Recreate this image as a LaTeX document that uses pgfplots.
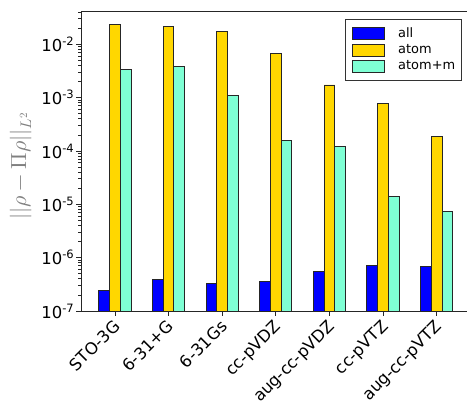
\documentclass[border=0pt]{standalone}
\usepackage{pgfplots}
\pgfplotsset{compat=1.18}
\usepackage{fontspec}
\usepackage{unicode-math}
\setmainfont{DejaVu Sans}
\setmathfont{Latin Modern Math}
\definecolor{cAll}{RGB}{0,0,255}
\definecolor{cAtom}{RGB}{255,215,0}
\definecolor{cAtomM}{RGB}{127,255,212}
\begin{document}
\begin{tikzpicture}
\pgfplotsset{myleg/.style={legend image code/.code={\draw[##1,draw=black!85,line width=0.9bp] (0bp,-6bp) rectangle (32bp,6bp);}}}
\begin{axis}[
  scale only axis,
  width=389bp, height=300bp,
  at={(0,0)}, anchor=south west,
  ymode=log, log origin=infty,
  ymin=1e-7, ymax=0.0422,
  xmin=-0.634, xmax=6.623,
  axis y line*=left, axis x line*=box,
  axis line style={line width=1bp, black!85},
  xtick pos=left, ytick pos=left,
  tick align=outside,
  major tick length=4.5bp, minor tick length=2.5bp,
  every tick/.style={black!85, line width=0.9bp},
  xtick={0,1,2,3,4,5,6},
  xticklabels={STO-3G,6-31+G,6-31Gs,cc-pVDZ,aug-cc-pVDZ,cc-pVTZ,aug-cc-pVTZ},
  xticklabel style={xshift=-2.5bp, yshift=-2bp, rotate=45, anchor=north east, font=\fontsize{16.5}{19}\selectfont, inner sep=1bp},
  ytick={1e-7,1e-6,1e-5,1e-4,1e-3,1e-2},
  yticklabels={10\textsuperscript{-7},10\textsuperscript{-6},10\textsuperscript{-5},10\textsuperscript{-4},10\textsuperscript{-3},10\textsuperscript{-2}},
  minor ytick={2e-7,3e-7,4e-7,5e-7,6e-7,7e-7,8e-7,9e-7,
    2e-6,3e-6,4e-6,5e-6,6e-6,7e-6,8e-6,9e-6,
    2e-5,3e-5,4e-5,5e-5,6e-5,7e-5,8e-5,9e-5,
    2e-4,3e-4,4e-4,5e-4,6e-4,7e-4,8e-4,9e-4,
    2e-3,3e-3,4e-3,5e-3,6e-3,7e-3,8e-3,9e-3,
    2e-2,3e-2,4e-2},
  yticklabel style={font=\fontsize{16.5}{19}\selectfont, inner sep=2bp},
  ybar, bar width=0.2,
  legend style={at={(0.980,0.973)}, anchor=north east, draw=black!80, line width=1bp,
    font=\fontsize{13}{15}\selectfont, inner xsep=6.5bp, inner ysep=7.5bp,
    nodes={inner sep=0bp, text height=9.5bp, text depth=2.5bp}, row sep=3.5bp,
    /tikz/every odd column/.style={column sep=13bp}},
  legend cell align=left,
]
\addplot[fill=cAll, draw=black!85, line width=0.9bp, bar shift=-0.2, myleg] coordinates {
  (0,2.4e-7) (1,3.9e-7) (2,3.35e-7) (3,3.6e-7) (4,5.5e-7) (5,7.1e-7) (6,6.8e-7)};
\addplot[fill=cAtom, draw=black!85, line width=0.9bp, bar shift=0, myleg] coordinates {
  (0,2.37e-2) (1,2.2e-2) (2,1.73e-2) (3,6.7e-3) (4,1.73e-3) (5,7.8e-4) (6,1.9e-4)};
\addplot[fill=cAtomM, draw=black!85, line width=0.9bp, bar shift=0.2, myleg] coordinates {
  (0,3.44e-3) (1,3.87e-3) (2,1.09e-3) (3,1.59e-4) (4,1.22e-4) (5,1.42e-5) (6,7.5e-6)};
\legend{all,atom,atom+m}
\end{axis}
\node[rotate=90, text=black!50, inner sep=0pt, font=\fontsize{22}{26}\selectfont] at (-60bp,145bp) {$||\rho - \Pi\rho||_{L^2}$};
\pgfresetboundingbox
\useasboundingbox (-81bp,-92bp) rectangle (386bp,311bp);
\end{tikzpicture}
\end{document}
